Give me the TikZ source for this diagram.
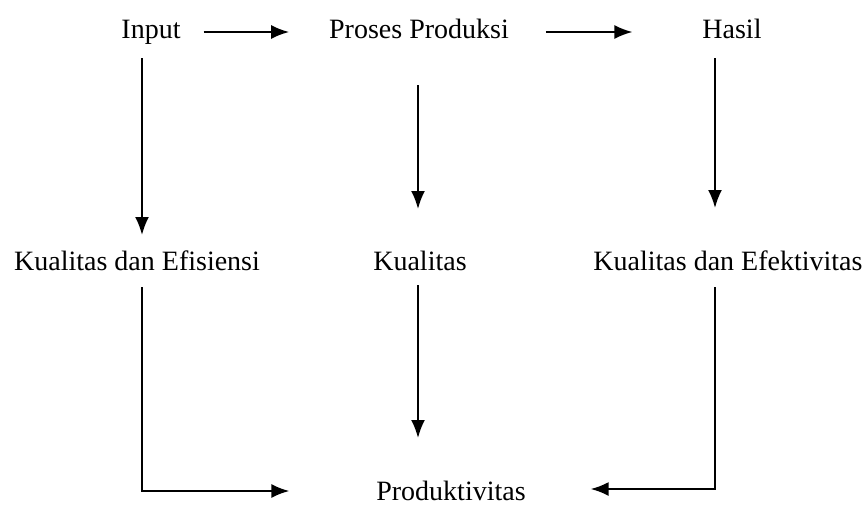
\documentclass[tikz,border=0pt]{standalone}
\usepackage{fontspec}
\setmainfont{Liberation Serif}
\usetikzlibrary{arrows.meta}
\begin{document}
\begin{tikzpicture}[x=1pt, y=-1pt, line width=2pt,
  lbl/.style={anchor=base, inner sep=0pt, outer sep=0pt,
    font=\fontsize{28}{32}\selectfont, text height=20pt, text depth=8pt},
  arr/.style={-{Latex[length=18pt,width=14pt]}}]
\useasboundingbox (0,0) rectangle (867,506);
\node[lbl] (input)  at (151,38)  {Input};
\node[lbl] (proses) at (419,38)  {Proses Produksi};
\node[lbl] (hasil)  at (732,38)  {Hasil};
\node[lbl] (efis)   at (137,270) {Kualitas dan Efisiensi};
\node[lbl] (kual)   at (420,270) {Kualitas};
\node[lbl] (efek)   at (728,270) {Kualitas dan Efektivitas};
\node[lbl] (prod)   at (451,500) {Produktivitas};
% top row
\draw[arr, shorten <=23pt, shorten >=40pt] (input.east) -- (proses.west);
\draw[arr, shorten <=37pt, shorten >=70pt] (proses.east) -- (hasil.west);
% down to second row
\draw[arr, shorten <=12pt, shorten >=15pt] ([xshift=-9pt]input.south) -- ([xshift=5pt]efis.north);
\draw[arr, shorten <=39pt, shorten >=41pt] ([xshift=-1pt]proses.south) -- ([xshift=-1pt]proses.south |- kual.north);
\draw[arr, shorten <=12pt, shorten >=42pt] ([xshift=-17pt]hasil.south) -- ([xshift=-17pt]hasil.south |- efek.north);
% down to productivity
\draw[arr, shorten <=7pt, shorten >=42pt] ([xshift=-2pt]kual.south) -- ([xshift=-2pt]kual.south |- prod.north);
\draw[arr, shorten <=9pt, shorten >=87pt] ([xshift=5pt]efis.south) |- ([yshift=3pt]prod.west);
\draw[arr, shorten <=9pt, shorten >=65pt] ([xshift=-13pt]efek.south) |- ([yshift=5pt]prod.east);
\end{tikzpicture}
\end{document}
